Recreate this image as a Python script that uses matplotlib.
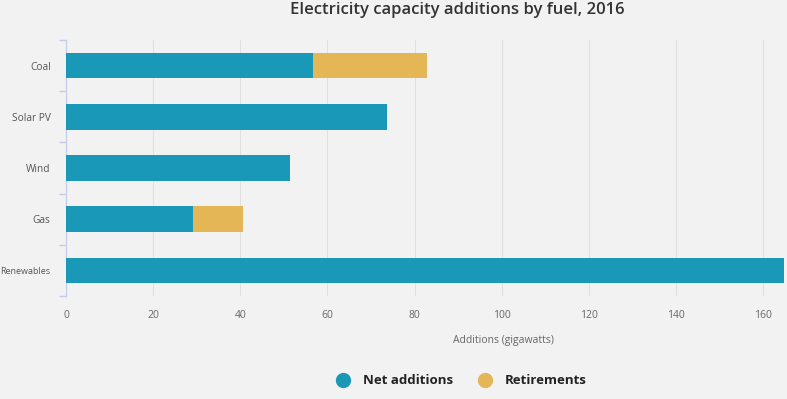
import matplotlib
matplotlib.use("Agg")
import matplotlib.pyplot as plt
from matplotlib.lines import Line2D

categories = ["Coal", "Solar PV", "Wind", "Gas", "Renewables"]
net_additions = [56.6, 73.6, 51.4, 29.1, 164.7]
retirements = [26.2, 0, 0, 11.5, 0]
xticks = [0, 20, 40, 60, 80, 100, 120, 140, 160]

teal = "#1a98b7"
gold = "#e5b655"
bg = "#f2f2f2"

plt.rcParams['font.family'] = ['Open Sans', 'DejaVu Sans']

fig = plt.figure(figsize=(7.87, 3.99), dpi=100, facecolor=bg)
ax = fig.add_axes([66/787, 1-296/399, (785-66)/787, (296-40)/399], facecolor=bg)

y = list(range(len(categories)))
ax.barh(y, net_additions, height=0.5, color=teal, label="Net additions", zorder=3)
ax.barh(y, retirements, left=net_additions, height=0.5, color=gold, label="Retirements", zorder=3)

ax.set_xlim(0, 165)
ax.set_ylim(4.5, -0.5)
ax.set_xticks(xticks)
ax.set_xticklabels([str(t) for t in xticks], fontsize=7.5, color="#666666")
ax.set_yticks(y)
ax.set_yticklabels(categories, fontsize=7.3, color="#555555")
ax.get_yticklabels()[-1].set_fontsize(6.5)
ax.set_yticks([-0.5 + i for i in range(6)], minor=True)
ax.tick_params(axis='y', which='major', length=0, pad=11)
ax.tick_params(axis='y', which='minor', length=5, color="#c5cbe6", width=1)
ax.tick_params(axis='x', length=0, pad=10)

ax.grid(axis='x', color="#e0e0e0", linewidth=0.8, zorder=0)
for s in ["top", "right", "bottom"]:
    ax.spines[s].set_visible(False)
ax.spines["left"].set_color("#c5cbe6")

fig.text(503/787, 1-340/399, "Additions (gigawatts)", ha="center", va="center",
         fontsize=7.5, color="#666666")
fig.text(457/787, 1-2/399, "Electricity capacity additions by fuel, 2016", ha="center",
         va="top", fontsize=12, color="#333333", fontweight="semibold")

handles = [Line2D([], [], marker='o', linestyle='', markersize=10, color=teal),
           Line2D([], [], marker='o', linestyle='', markersize=10, color=gold)]
leg = fig.legend(handles, ["Net additions", "Retirements"], loc="center",
                 bbox_to_anchor=(458/787, 1-381/399), ncol=2, frameon=False,
                 prop={'weight': 'bold', 'size': 9.5}, handletextpad=0.5, columnspacing=1.4)
for t in leg.get_texts():
    t.set_color("#222222")

fig.savefig("out.png", dpi=100, facecolor=bg)
